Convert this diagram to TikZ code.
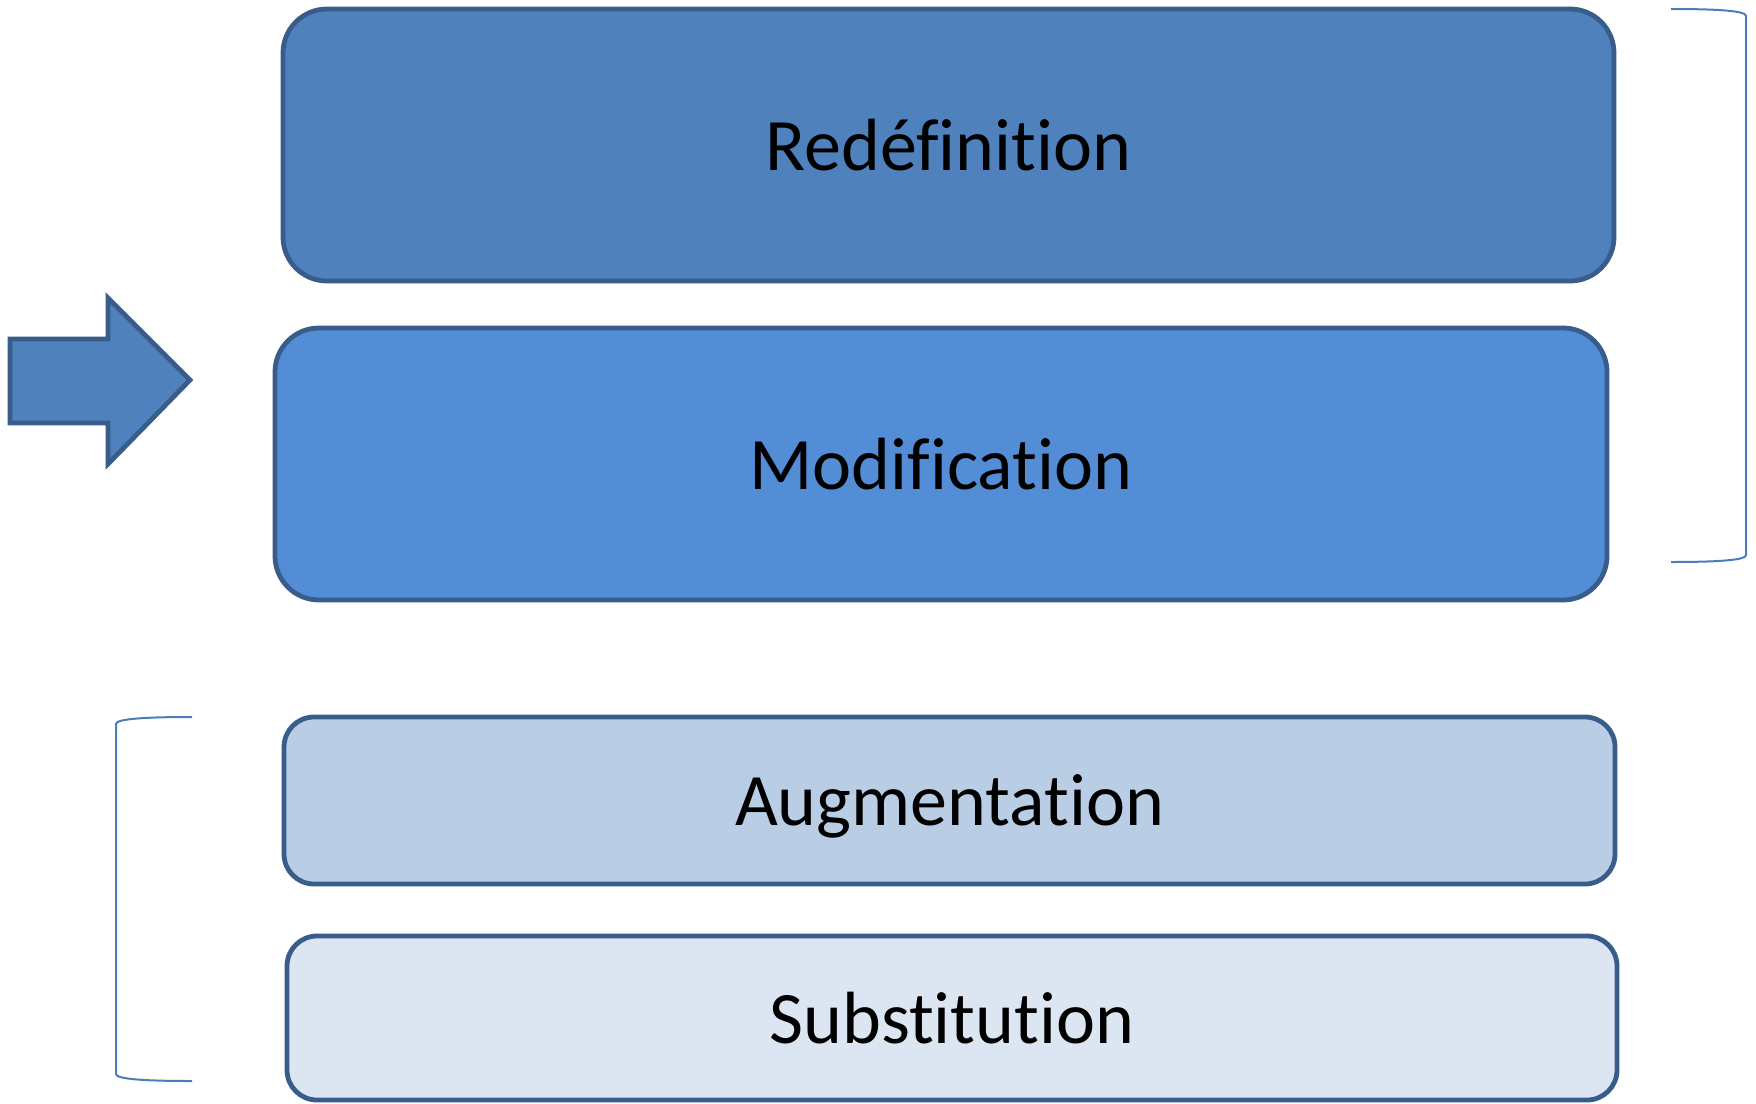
\documentclass[tikz,border=0pt]{standalone}
\usepackage{fontspec}
\setmainfont{Carlito}[Ligatures=CommonOff]
\definecolor{edge}{HTML}{385D8A}
\definecolor{fillA}{HTML}{4F81BD}
\definecolor{fillB}{HTML}{538DD5}
\definecolor{fillC}{HTML}{B9CDE5}
\definecolor{fillD}{HTML}{DCE6F2}
\definecolor{brk}{HTML}{4A7EBB}
\begin{document}
\begin{tikzpicture}[x=0.5pt,y=-0.5pt,
  box/.style={draw=edge, line width=2.4pt, rectangle, font=\fontsize{37}{44}\selectfont, text=black, inner sep=0pt, text depth=0pt},
  bigbox/.style={box, rounded corners=22pt},
  smallbox/.style={box, rounded corners=15pt},
  bracket/.style={draw=brk, line width=1pt}]
\useasboundingbox (0,0) rectangle (1756,1103);
\node[bigbox, fill=fillA, minimum width=665.5pt, minimum height=136pt] (redef) at (948.5,145) {Redéfinition};
\node[bigbox, fill=fillB, minimum width=666pt, minimum height=136pt] (modif) at (941,464) {Modification};
\node[smallbox, fill=fillC, minimum width=665.5pt, minimum height=83.5pt] (augm) at (949.5,800.5) {Augmentation};
\node[smallbox, fill=fillD, minimum width=665pt, minimum height=82pt] (subs) at (952,1018) {Substitution};
% arrow
\draw[draw=edge, line width=2.4pt, fill=fillA, line join=miter]
  (10,339) -- (108,339) -- (108,298) -- (190,380) -- (108,464) -- (108,423) -- (10,423) -- cycle;
% right bracket
\draw[bracket] (1671,9) .. controls (1720,9) and (1746,11) .. (1746,16) -- (1746,555) .. controls (1746,560) and (1720,562) .. (1671,562);
% left bracket
\draw[bracket] (192,717) .. controls (143,717) and (116,719) .. (116,724) -- (116,1074) .. controls (116,1079) and (143,1081) .. (192,1081);
\end{tikzpicture}
\end{document}
